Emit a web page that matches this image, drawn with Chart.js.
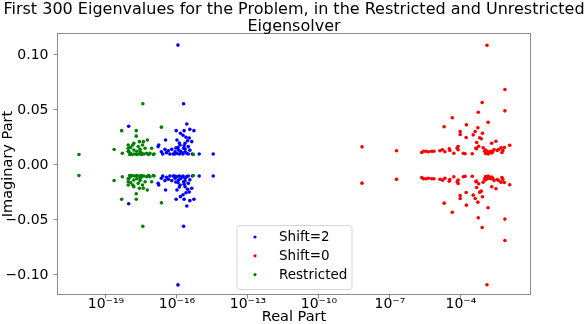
<!DOCTYPE html>
<html><head><meta charset="utf-8">
<script src="https://cdn.jsdelivr.net/npm/chart.js@4/dist/chart.umd.min.js"></script>
<style>html,body{margin:0;padding:0;background:#fff}</style>
</head><body>
<canvas id="c" width="586" height="324"></canvas>
<script>
const titleLines = ["First 300 Eigenvalues for the Problem, in the Restricted and Unrestricted", "Eigensolver"];
const xAxisLabel = "Real Part";
const yAxisLabel = "Imaginary Part";
const xTickExponents = [-19, -16, -13, -10, -7, -4];
const yTickValues = [-0.10, -0.05, 0.00, 0.05, 0.10];
const seriesLabels = ["Shift=2", "Shift=0", "Restricted"];

// Shift=2 (conjugate pairs share the real part)
const shift2Real = [1.1e-16, 1.9e-16, 9.1e-19, 9.1e-19, 9.3e-17, 1.4e-16, 2.0e-16, 2.6e-16, 3.5e-16, 5.2e-16,
  3.3e-17, 1.0e-16, 2.4e-16, 3.3e-16, 4.2e-16, 2.2e-16, 1.35e-16, 3.0e-16, 1.9e-16, 1.7e-17,
  1.6e-17, 2.2e-17, 3.1e-17, 4.3e-17, 6.0e-17, 8.3e-17, 1.15e-16, 1.6e-16, 2.2e-16, 3.0e-16,
  6.9e-17, 3.6e-17, 8.7e-16, 3.4e-15, 5.0e-17, 1.0e-16, 1.26e-16, 1.8e-16, 2.5e-16, 2.5e-17,
  1.4e-16, 1.1e-16, 2.2e-16, 2.8e-16, 1.8e-16, 1.26e-16, 3.5e-16, 2.0e-16, 7.9e-17, 4.5e-16, 8.9e-17];
const shift2ImagUpper = [0.109, 0.0557, 0.0352, 0.0125, 0.0312, 0.0288, 0.0312, 0.0373, 0.0324, 0.0312,
  0.0227, 0.0227, 0.0252, 0.0245, 0.0212, 0.0197, 0.0182, 0.0167, 0.0152, 0.0182,
  0.0167, 0.0121, 0.0142, 0.0130, 0.0142, 0.0121, 0.0136, 0.0112, 0.0121, 0.0100,
  0.0100, 0.0112, 0.0100, 0.0100, 0.0100, 0.0105, 0.0100, 0.0100, 0.0108, 0.0100,
  0.0125, 0.0160, 0.0145, 0.0220, 0.0270, 0.0200, 0.0135, 0.0175, 0.0100, 0.0100, 0.0155];
const shift2ImagLower = [-0.109, -0.0557, -0.0352, -0.0125, -0.0312, -0.0288, -0.0312, -0.0373, -0.0324, -0.0312,
  -0.0227, -0.0227, -0.0252, -0.0245, -0.0212, -0.0197, -0.0182, -0.0167, -0.0152, -0.0182,
  -0.0167, -0.0121, -0.0142, -0.0130, -0.0142, -0.0121, -0.0136, -0.0112, -0.0121, -0.0100,
  -0.0100, -0.0112, -0.0100, -0.0100, -0.0100, -0.0105, -0.0100, -0.0100, -0.0108, -0.0100,
  -0.0125, -0.0160, -0.0145, -0.0220, -0.0270, -0.0200, -0.0135, -0.0175, -0.0100, -0.0100, -0.0155];

// Shift=0
const shift0Real = [1.26e-3, 7.2e-3, 7.2e-3, 7.9e-4, 5.4e-4, 1.4e-3, 4.3e-5, 1.95e-5, 1.7e-4, 5.2e-4,
  9.3e-5, 9.3e-5, 4.0e-4, 8.1e-4, 1.66e-4, 3.3e-4, 6.2e-4, 7.2e-4, 4.6e-4, 2.0e-3,
  3.0e-3, 5.6e-4, 4.3e-4, 7.6e-5, 6.9e-5, 6.6e-9, 1.9e-7, 1.15e-2, 6.8e-3, 4.9e-3,
  3.9e-3, 3.4e-3, 5.9e-3, 5.4e-3, 2.2e-6, 2.6e-6, 3.3e-6, 4.2e-6, 5.8e-6, 7.2e-6,
  1.3e-5, 1.66e-5, 2.1e-5, 3.2e-5, 3.4e-5, 5.0e-5, 7.6e-5, 1.26e-4, 1.5e-4, 3.0e-4,
  4.5e-4, 8.7e-4, 1.0e-3, 1.1e-3, 1.26e-3, 1.4e-3, 1.6e-3, 1.8e-3, 2.0e-3, 2.2e-3,
  1.1e-3, 2.5e-3, 1.3e-3];
const shift0ImagUpper = [0.1089, 0.0686, 0.0492, 0.0568, 0.0480, 0.0389, 0.0429, 0.0347, 0.0365, 0.0338,
  0.0305, 0.0277, 0.0305, 0.0289, 0.0250, 0.0274, 0.0247, 0.0238, 0.0205, 0.0198,
  0.0216, 0.0171, 0.0153, 0.0168, 0.0153, 0.0165, 0.0129, 0.0180, 0.0159, 0.0156,
  0.0141, 0.0132, 0.0132, 0.0114, 0.0114, 0.0125, 0.0125, 0.0120, 0.0125, 0.0125,
  0.0130, 0.0138, 0.0120, 0.0147, 0.0132, 0.0107, 0.0138, 0.0107, 0.0102, 0.0102,
  0.0147, 0.0156, 0.0125, 0.0105, 0.0115, 0.0100, 0.0112, 0.0125, 0.0110, 0.0120,
  0.0135, 0.0140, 0.0125];
const shift0ImagLower = [-0.1089, -0.0686, -0.0492, -0.0568, -0.0480, -0.0389, -0.0429, -0.0347, -0.0365, -0.0338,
  -0.0305, -0.0277, -0.0305, -0.0289, -0.0250, -0.0274, -0.0247, -0.0238, -0.0205, -0.0198,
  -0.0216, -0.0171, -0.0153, -0.0168, -0.0153, -0.0165, -0.0129, -0.0180, -0.0159, -0.0156,
  -0.0141, -0.0132, -0.0132, -0.0114, -0.0114, -0.0125, -0.0125, -0.0120, -0.0125, -0.0125,
  -0.0130, -0.0138, -0.0120, -0.0147, -0.0132, -0.0107, -0.0138, -0.0107, -0.0102, -0.0102,
  -0.0147, -0.0156, -0.0125, -0.0105, -0.0115, -0.0100, -0.0112, -0.0125, -0.0110, -0.0120,
  -0.0135, -0.0140, -0.0125];

// Restricted
const restrictedReal = [7.2e-21, 3.6e-18, 4.6e-19, 1.9e-18, 1.9e-18, 2.2e-17, 2.2e-19, 4.9e-19, 4.9e-16, 8.7e-19,
  8.7e-19, 1.35e-18, 2.6e-18, 3.8e-18, 5.6e-18, 3.5e-18, 2.3e-18, 1.5e-18, 1.1e-18, 2.0e-18,
  3.2e-18, 5.2e-18, 8.5e-18, 7.2e-18, 1.5e-18, 2.75e-18, 4.5e-18, 1.0e-18, 1.26e-18, 1.6e-18,
  2.5e-18, 3.2e-18, 4.0e-18, 6.3e-18, 1.0e-17, 1.07e-17, 8.7e-19, 2.0e-18, 1.1e-18, 2.8e-18];
const restrictedImagUpper = [0.0095, 0.0557, 0.0312, 0.0312, 0.0262, 0.0344, 0.0141, 0.0107, 0.0095, 0.0182,
  0.0152, 0.0182, 0.0212, 0.0212, 0.0227, 0.0182, 0.0167, 0.0136, 0.0107, 0.0095,
  0.0107, 0.0107, 0.0152, 0.0107, 0.0197, 0.0142, 0.0152, 0.0095, 0.0095, 0.0100,
  0.0100, 0.0095, 0.0100, 0.0095, 0.0095, 0.0100, 0.0125, 0.0125, 0.0160, 0.0120];
const restrictedImagLower = [-0.0095, -0.0557, -0.0312, -0.0312, -0.0262, -0.0344, -0.0141, -0.0107, -0.0095, -0.0182,
  -0.0152, -0.0182, -0.0212, -0.0212, -0.0227, -0.0182, -0.0167, -0.0136, -0.0107, -0.0095,
  -0.0107, -0.0107, -0.0152, -0.0107, -0.0197, -0.0142, -0.0152, -0.0095, -0.0095, -0.0100,
  -0.0100, -0.0095, -0.0100, -0.0095, -0.0095, -0.0100, -0.0125, -0.0125, -0.0160, -0.0120];

const FONT = "'DejaVu Sans', sans-serif";

function toPoints(re, imU, imL) {
  return re.map((x, i) => ({x: x, y: imU[i]})).concat(re.map((x, i) => ({x: x, y: imL[i]})));
}
function sup(n) {
  const m = {'-': '\u207B', '0': '\u2070', '1': '\u00B9', '2': '\u00B2', '3': '\u00B3', '4': '\u2074', '5': '\u2075', '6': '\u2076', '7': '\u2077', '8': '\u2078', '9': '\u2079'};
  return String(n).split('').map(c => m[c]).join('');
}

const decor = {
  id: 'decor',
  afterDraw(chart) {
    const ctx = chart.ctx, a = chart.chartArea;
    ctx.save();
    // axes box
    ctx.strokeStyle = '#8c8c8c';
    ctx.lineWidth = 1;
    ctx.strokeRect(a.left + 0.5, a.top + 0.5, a.right - a.left - 1, a.bottom - a.top - 1);
    // title
    ctx.fillStyle = '#000';
    ctx.font = '16px ' + FONT;
    ctx.textAlign = 'center';
    ctx.textBaseline = 'middle';
    const cx = (a.left + a.right) / 2;
    ctx.fillText(titleLines[0], cx, 10);
    ctx.fillText(titleLines[1], cx, 27);
    // legend
    const w = 115, h = 64;
    const lx = cx - w / 2 + 0.5, ly = a.bottom - 6 - h + 0.5;
    ctx.beginPath();
    ctx.roundRect(lx, ly, w, h, 3);
    ctx.fillStyle = 'rgba(255,255,255,0.8)';
    ctx.fill();
    ctx.strokeStyle = '#d6d6d6';
    ctx.stroke();
    ctx.font = '13.5px ' + FONT;
    ctx.textAlign = 'left';
    chart.data.datasets.forEach((ds, i) => {
      const yy = ly + 11.5 + i * 18.8;
      ctx.beginPath();
      ctx.arc(lx + 18, yy, 1.6, 0, Math.PI * 2);
      ctx.fillStyle = ds.backgroundColor;
      ctx.fill();
      ctx.fillStyle = '#000';
      ctx.fillText(ds.label, lx + 42, yy + 0.5);
    });
    ctx.restore();
  }
};

new Chart(document.getElementById('c'), {
  type: 'scatter',
  data: {
    datasets: [
      {label: seriesLabels[0], data: toPoints(shift2Real, shift2ImagUpper, shift2ImagLower), backgroundColor: '#0000ff', borderColor: '#0000ff', order: 3},
      {label: seriesLabels[1], data: toPoints(shift0Real, shift0ImagUpper, shift0ImagLower), backgroundColor: '#ff0000', borderColor: '#ff0000', order: 2},
      {label: seriesLabels[2], data: toPoints(restrictedReal, restrictedImagUpper, restrictedImagLower), backgroundColor: '#008000', borderColor: '#008000', order: 1}
    ]
  },
  options: {
    responsive: false,
    animation: false,
    devicePixelRatio: 1,
    layout: {padding: {top: 33, right: 55, left: 0, bottom: 0}},
    elements: {point: {radius: 1.8, borderWidth: 0, hoverRadius: 1.8}},
    plugins: {legend: {display: false}, title: {display: false}, tooltip: {enabled: false}},
    scales: {
      x: {
        type: 'logarithmic',
        position: 'bottom',
        min: Math.pow(10, -21.07),
        max: Math.pow(10, -1.04),
        afterBuildTicks: s => { s.ticks = xTickExponents.map(e => ({value: Math.pow(10, e)})); },
        afterFit: s => { s.height = 29; },
        ticks: {
          autoSkip: false, maxRotation: 0, padding: -1, color: '#000',
          font: {family: FONT, size: 14, lineHeight: 1.0},
          callback: v => '10' + sup(Math.round(Math.log10(v)))
        },
        grid: {drawOnChartArea: false, drawTicks: true, tickLength: 3.5, color: '#8c8c8c'},
        border: {display: false},
        title: {display: true, text: xAxisLabel, color: '#000', font: {family: FONT, size: 14.5, lineHeight: 1.0}, padding: {top: 0, bottom: 0}}
      },
      y: {
        type: 'linear',
        min: -0.1182,
        max: 0.12,
        afterBuildTicks: s => { s.ticks = yTickValues.map(v => ({value: v})); },
        afterFit: s => { s.width = 57; },
        ticks: {
          padding: 5, color: '#000',
          font: {family: FONT, size: 14},
          callback: v => (v < 0 ? '\u2212' : '') + Math.abs(v).toFixed(2)
        },
        grid: {drawOnChartArea: false, drawTicks: true, tickLength: 3.5, color: '#8c8c8c'},
        border: {display: false},
        title: {display: true, text: yAxisLabel, color: '#000', font: {family: FONT, size: 14.5, lineHeight: 1.2}, padding: {top: 0, bottom: 0}}
      }
    }
  },
  plugins: [decor]
});
</script>
</body></html>
